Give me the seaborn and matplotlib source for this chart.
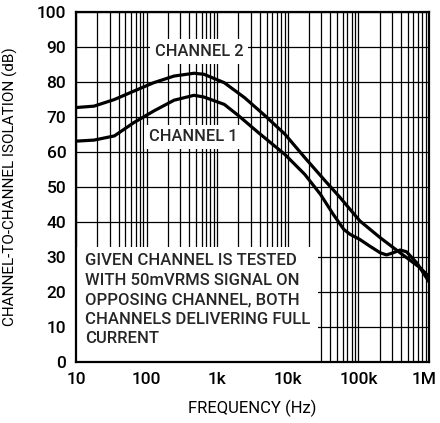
import numpy as np
import pandas as pd
import matplotlib
matplotlib.use("Agg")
import matplotlib.pyplot as plt
from matplotlib.patches import Rectangle
from matplotlib.ticker import LogLocator, NullFormatter
import seaborn as sns

# --- DATA ---
ch1_freq = [10, 18, 35, 66, 126, 245, 470, 650, 1260, 2000, 3800, 9100, 17400,
            29000, 44000, 62000, 76000, 105000, 145000, 204000, 250000, 310000,
            390000, 480000, 680000, 1000000]
ch1_db = [63.1, 63.4, 64.6, 68.4, 71.7, 74.8, 76.2, 75.7, 73.6, 70.4, 65.6, 59.3, 53.6,
          47.9, 42.2, 37.9, 36.5, 35.0, 33.1, 31.2, 30.6, 31.2, 32.0, 31.5, 28.2, 22.9]

ch2_freq = [10, 18, 35, 66, 126, 245, 470, 650, 1260, 2450, 4800, 9100, 17400,
            34000, 55000, 105000, 204000, 390000, 740000, 1000000]
ch2_db = [72.7, 73.1, 75.0, 77.4, 79.8, 81.7, 82.5, 82.2, 79.8, 75.5, 70.3, 65.1, 58.4,
          51.7, 47.0, 40.3, 35.5, 31.2, 27.0, 24.4]

x_ticks = [10, 100, 1000, 10000, 100000, 1000000]
x_tick_labels = ["10", "100", "1k", "10k", "100k", "1M"]
y_ticks = list(range(0, 101, 10))

note = ("GIVEN CHANNEL IS TESTED\nWITH 50mVRMS SIGNAL ON\n"
        "OPPOSING CHANNEL, BOTH\nCHANNELS DELIVERING FULL\nCURRENT")

# --- STYLE ---
sns.set_style("white")
plt.rcParams["font.family"] = ["Roboto", "DejaVu Sans"]
plt.rcParams["font.weight"] = 500

df = pd.concat([
    pd.DataFrame({"freq": ch1_freq, "db": ch1_db, "ch": "CHANNEL 1"}),
    pd.DataFrame({"freq": ch2_freq, "db": ch2_db, "ch": "CHANNEL 2"}),
])

fig = plt.figure(figsize=(4.4, 4.23), dpi=100)
ax = fig.add_axes([76 / 440, 61 / 423, 353 / 440, 350 / 423])

sns.lineplot(data=df, x="freq", y="db", hue="ch", palette=["black", "black"],
             estimator=None, sort=False, lw=2.3, legend=False, ax=ax)
for ln in ax.lines:
    ln.set_solid_capstyle("round")
    ln.set_solid_joinstyle("round")
    ln.set_zorder(4)

ax.set_xscale("log")
ax.set_xlim(10, 1e6)
ax.set_ylim(0, 100)
# last label drawn separately below so it is not clipped at the figure edge
ax.set_xticks(x_ticks, x_tick_labels[:-1] + [""])
ax.xaxis.set_minor_locator(LogLocator(base=10, subs=range(2, 10), numticks=20))
ax.xaxis.set_minor_formatter(NullFormatter())
ax.set_yticks(y_ticks)

# grid drawn by hand so the note box can hide it while the ticks stay on top
xs = [v for v in list(ax.get_xticks()) + list(ax.xaxis.get_minorticklocs()) if 10 <= v <= 1e6]
ax.vlines(xs, 0, 100, color="black", lw=0.9, zorder=0.5)
ax.hlines(y_ticks, 10, 1e6, color="black", lw=0.9, zorder=0.5)

ax.add_patch(Rectangle((10, 0), 27000 - 10, 33, facecolor="white", edgecolor="none", zorder=1))

box = dict(facecolor="white", edgecolor="none", boxstyle="square,pad=0.3")
ax.text(552, 88.6, "CHANNEL 2", ha="center", va="center", fontsize=11.8, bbox=box, zorder=3)
ax.text(454, 64.3, "CHANNEL 1", ha="center", va="center", fontsize=11.8, bbox=box, zorder=3)
ax.text(13.4, 31.1, note, ha="left", va="top", fontsize=12, linespacing=1.38, zorder=3)

ax.tick_params(which="major", direction="in", length=4, width=1, labelsize=12.5, pad=7,
               color="black", labelcolor="black")
ax.tick_params(which="minor", direction="in", length=3, width=0.8, color="black")
for sp in ax.spines.values():
    sp.set_linewidth(1.6)
    sp.set_color("black")

ax.annotate(x_tick_labels[-1], xy=(x_ticks[-1], 0), xycoords=("data", "axes fraction"),
            xytext=(-3.5, -7), textcoords="offset points", ha="center", va="top",
            fontsize=12.5, color="black")

ax.set_xlabel("FREQUENCY (Hz)", fontsize=12, color="black")
ax.set_ylabel("CHANNEL-TO-CHANNEL ISOLATION (dB)", fontsize=11, color="black")
ax.xaxis.set_label_coords(0.5, -0.108)
ax.yaxis.set_label_coords(-0.164, 0.5)

fig.savefig("out.png", dpi=100)
